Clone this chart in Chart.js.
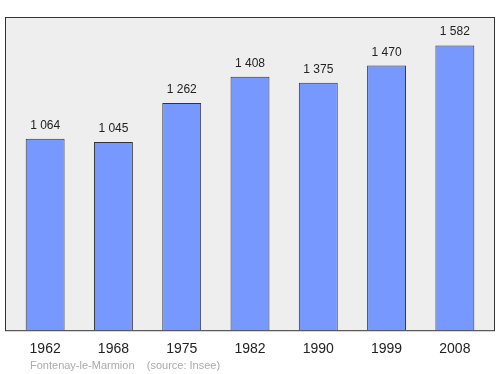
<!DOCTYPE html>
<html lang="fr">
<head>
    <meta charset="UTF-8">
    <title>Fontenay-le-Marmion - population</title>
    <script src="https://cdn.jsdelivr.net/npm/chart.js@4.4.0/dist/chart.umd.min.js"></script>
    <style>
        html, body { margin: 0; padding: 0; background: #ffffff; }
        #wrap { width: 500px; height: 374px; }
    </style>
</head>
<body>
    <div id="wrap"><canvas id="popChart" width="500" height="374"></canvas></div>

    <script>
        // Données
        var annees = ["1962", "1968", "1975", "1982", "1990", "1999", "2008"];
        var population = [1064, 1045, 1262, 1408, 1375, 1470, 1582];
        var yMax = 1740;

        function formatNombre(v) {
            return String(v).replace(/\B(?=(\d{3})+(?!\d))/g, " ");
        }

        // fond gris + cadre
        var cadre = {
            id: 'cadre',
            beforeDraw: function (chart) {
                var ctx = chart.ctx;
                var a = chart.chartArea;
                ctx.save();
                ctx.fillStyle = '#eeeeee';
                ctx.fillRect(5.5, a.top, 489, a.bottom - a.top);
                ctx.strokeStyle = '#333333';
                ctx.lineWidth = 1;
                ctx.strokeRect(5.5, a.top + 0.5, 489, a.bottom - a.top);
                ctx.restore();
            }
        };

        // valeurs au-dessus des barres + source
        var etiquettes = {
            id: 'etiquettes',
            afterDatasetsDraw: function (chart) {
                var ctx = chart.ctx;
                var meta = chart.getDatasetMeta(0);
                ctx.save();
                ctx.fillStyle = '#222222';
                ctx.font = '12px "Liberation Sans", Arial, sans-serif';
                ctx.textAlign = 'center';
                ctx.textBaseline = 'alphabetic';
                meta.data.forEach(function (bar, i) {
                    ctx.fillText(formatNombre(population[i]), bar.x, bar.y - 10);
                });
                ctx.fillStyle = '#aaaaaa';
                ctx.font = '11px "Liberation Sans", Arial, sans-serif';
                ctx.textAlign = 'left';
                ctx.fillText('Fontenay-le-Marmion    (source: Insee)', 30, 369);
                ctx.restore();
            }
        };

        var popChart = new Chart(document.getElementById('popChart'), {
            type: 'bar',
            data: {
                labels: annees,
                datasets: [{
                    data: population,
                    backgroundColor: '#7799ff',
                    borderColor: '#333333',
                    borderWidth: 1,
                    barPercentage: 0.57,
                    categoryPercentage: 1.0
                }]
            },
            options: {
                responsive: false,
                animation: false,
                layout: { padding: { left: 11, right: 11, top: 17, bottom: 13 } },
                plugins: {
                    legend: { display: false },
                    tooltip: { enabled: false }
                },
                scales: {
                    x: {
                        grid: { display: false, drawBorder: false },
                        border: { display: false },
                        ticks: {
                            color: '#222222',
                            font: { size: 14, family: '"Liberation Sans", Arial, sans-serif' },
                            padding: 3
                        }
                    },
                    y: {
                        min: 0,
                        max: yMax,
                        display: false
                    }
                }
            },
            plugins: [cadre, etiquettes]
        });
    </script>
</body>
</html>
